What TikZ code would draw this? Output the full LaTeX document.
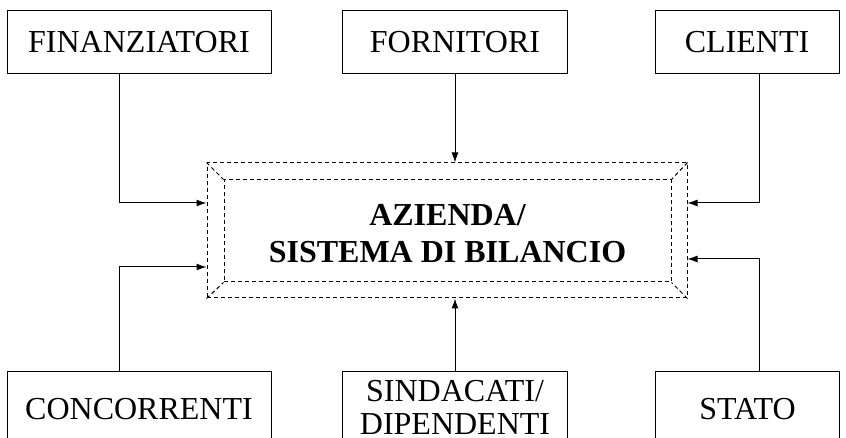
\documentclass[tikz,border=0pt]{standalone}
\usepackage{fontspec}
\setmainfont{Liberation Serif}
\usetikzlibrary{arrows.meta}
\begin{document}
\begin{tikzpicture}[x=1pt,y=-1pt,
  boxnode/.style={draw,line width=1pt,rectangle,inner sep=0pt,
    font=\fontsize{32}{33}\selectfont,align=center},
  dashbox/.style={draw,line width=1pt,rectangle,inner sep=0pt,
    dash pattern=on 4pt off 3pt},
  bevel/.style={line width=1pt,dash pattern=on 4pt off 3pt},
  conn/.style={line width=1pt,-{Latex[length=10pt,width=7pt]}}]
\useasboundingbox (0,0) rectangle (846,438);
% top boxes
\node[boxnode,minimum width=264pt,minimum height=63pt] (fin) at (139,42.5) {FINANZIATORI};
\node[boxnode,minimum width=225pt,minimum height=63pt] (forn) at (455,42.5) {FORNITORI};
\node[boxnode,minimum width=184pt,minimum height=63pt] (cli) at (747,42.5) {CLIENTI};
% bottom boxes
\node[boxnode,minimum width=264pt,minimum height=76pt] (conc) at (139,409) {CONCORRENTI};
\node[boxnode,minimum width=225pt,minimum height=76pt] (sind) at (455,409) {};
\node[font=\fontsize{32}{33}\selectfont,align=center,inner sep=0pt] (sindtxt) at (455,407) {SINDACATI/\\DIPENDENTI};
\node[boxnode,minimum width=184pt,minimum height=76pt] (stato) at (747.5,409) {STATO};
% centre
\node[dashbox,minimum width=480pt,minimum height=135pt] (outer) at (447,230.5) {};
\node[dashbox,minimum width=447pt,minimum height=102pt] (inner) at (447.5,231) {};
\node[font=\bfseries\fontsize{32}{37}\selectfont,align=center,inner sep=0pt] (ctext) at (447.5,234) {AZIENDA/\\SISTEMA DI BILANCIO};
\draw[bevel] (outer.north west) -- (inner.north west);
\draw[bevel] (outer.north east) -- (inner.north east);
\draw[bevel] (outer.south west) -- (inner.south west);
\draw[bevel] (outer.south east) -- (inner.south east);
% connectors
\draw[conn] ([xshift=-20pt]fin.south) |- ([yshift=27.5pt]outer.west);
\draw[conn] (forn.south) -- (forn.south |- outer.north);
\draw[conn] ([xshift=12pt]cli.south) |- ([yshift=27.5pt]outer.east);
\draw[conn] ([xshift=-20pt]conc.north) |- ([yshift=-36.5pt]outer.west);
\draw[conn] (sind.north) -- (sind.north |- outer.south);
\draw[conn] ([xshift=11.5pt]stato.north) |- ([yshift=-28.5pt]outer.east);
\end{tikzpicture}
\end{document}
